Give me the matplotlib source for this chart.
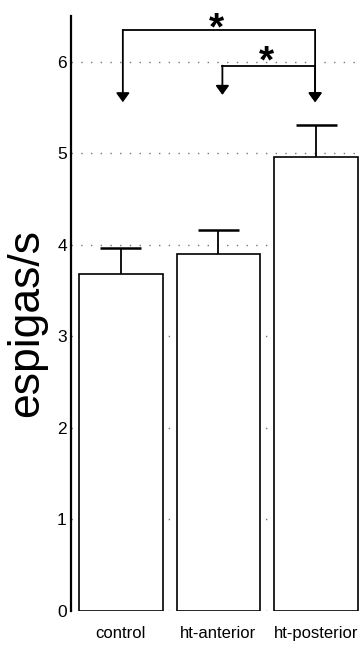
import matplotlib
matplotlib.use('Agg')
import matplotlib.pyplot as plt

groups = ['control', 'ht-anterior', 'ht-posterior']
rates = [3.68, 3.90, 4.96]      # espigas/s
sem = [0.29, 0.26, 0.35]

# significance brackets: (left x, right x, bracket height, left tip, right tip)
brackets = [
    (0.02, 1.99, 6.35, 5.56, 5.56),
    (1.04, 1.99, 5.96, 5.64, 5.56),
]
stars = [(0.98, 6.25), (1.49, 5.89)]

plt.rcParams['font.family'] = ['Liberation Sans', 'DejaVu Sans']

fig = plt.figure(figsize=(3.6, 6.46), dpi=100)
ax = fig.add_axes([0.197, 0.0542, 0.803, 0.9207])

x = list(range(len(groups)))
ax.bar(x, rates, width=0.86, color='white', edgecolor='black', linewidth=1.2, zorder=2)

# upper error bars only
tops = [r + s for r, s in zip(rates, sem)]
ax.vlines(x, rates, tops, color='black', lw=1.3, zorder=3)
ax.hlines(tops, [i - 0.21 for i in x], [i + 0.21 for i in x], color='black', lw=1.8, zorder=3)

for y in range(7):
    ax.axhline(y, color='#777777', lw=1, linestyle=(0, (1, 6)), zorder=1)

for x0, x1, top, tip0, tip1 in brackets:
    ax.plot([x0, x1], [top, top], color='black', lw=1.3, zorder=3)
    for xx, tip in ((x0, tip0), (x1, tip1)):
        ax.annotate('', xy=(xx, tip), xytext=(xx, top),
                    arrowprops=dict(arrowstyle='-|>,head_length=0.55,head_width=0.4',
                                    color='black', lw=1.3, shrinkA=0, shrinkB=0))
for sx, sy in stars:
    ax.text(sx, sy, '*', fontsize=28, fontweight='bold', ha='center', va='baseline')

ax.set_xlim(-0.512, 2.45)
ax.set_ylim(0, 6.5)
ax.set_yticks(range(7))
ax.set_xticks(x)
ax.set_xticklabels(groups, fontsize=12)
for lab in ax.get_yticklabels():
    lab.set_fontsize(12.5)
ax.tick_params(length=0)
ax.tick_params(axis='y', pad=3)
ax.tick_params(axis='x', pad=11)

for s in ['top', 'right', 'bottom']:
    ax.spines[s].set_visible(False)
ax.spines['left'].set_linewidth(1.6)

fig.text(0.075, 0.5, 'espigas/s', rotation=90, fontsize=32, ha='center', va='center')

fig.savefig('out.png', dpi=100)
